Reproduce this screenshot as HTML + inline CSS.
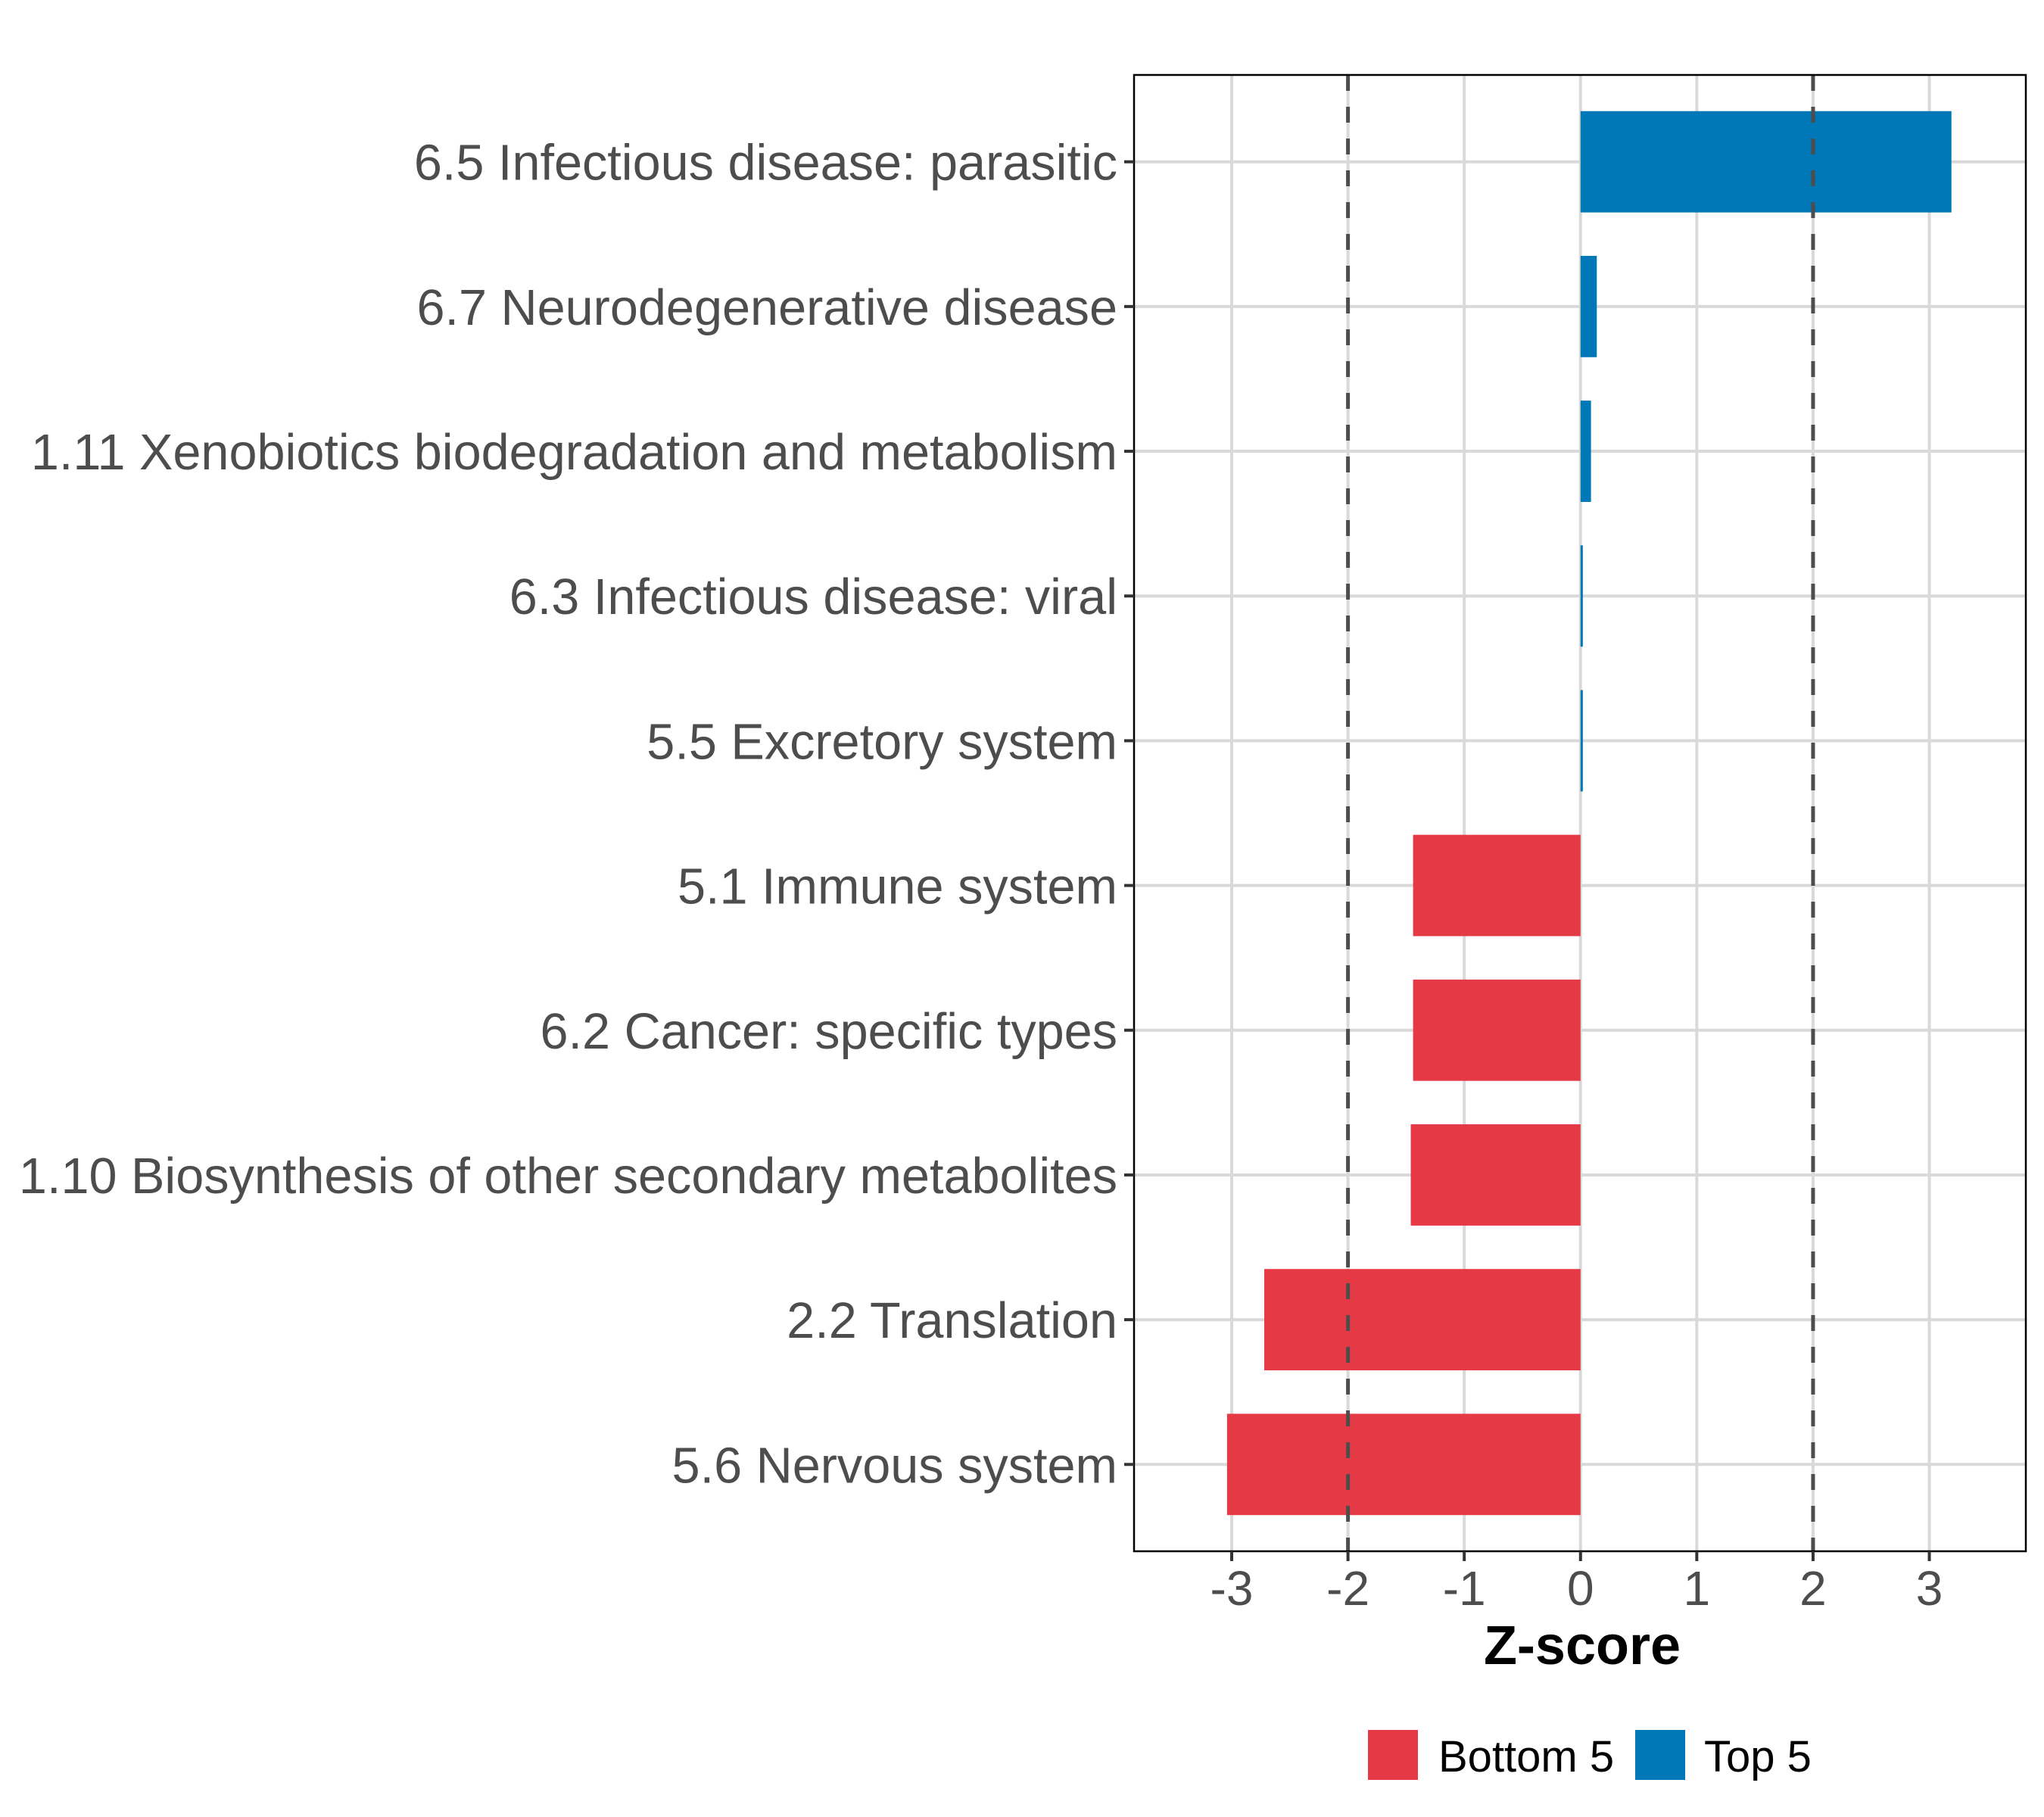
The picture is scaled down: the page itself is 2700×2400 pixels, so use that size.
<!DOCTYPE html>
<html><head><meta charset="utf-8"><style>
html,body{margin:0;padding:0;background:#fff;}
svg{display:block;font-family:"Liberation Sans",Arial,sans-serif;}
</style></head><body>
<svg id="chart" width="2700" height="2400" viewBox="0 0 2700 2400" xmlns="http://www.w3.org/2000/svg">
<rect x="0" y="0" width="2700" height="2400" fill="#fff"/>
<g id="grid"></g>
<g id="bars"></g>
<g id="refs"></g>
<rect x="1498" y="99" width="1178" height="1950" fill="none" stroke="#000" stroke-width="2.5"/>
<g id="yaxis"></g>
<g id="xaxis"></g>
<text x="2090" y="2198" text-anchor="middle" font-size="72" font-weight="bold" fill="#000">Z-score</text>
<g>
  <g>
    <rect x="1807" y="2285" width="66" height="66" fill="#E63946"/>
    <text x="1900" y="2340" font-size="58" fill="#000">Bottom 5</text>
  </g>
  <g>
    <rect x="2160" y="2285" width="66" height="66" fill="#0077B6"/>
    <text x="2251" y="2340" font-size="58" fill="#000">Top 5</text>
  </g>
</g>
</svg>
<script>
const categories = ["6.5 Infectious disease: parasitic","6.7 Neurodegenerative disease","1.11 Xenobiotics biodegradation and metabolism","6.3 Infectious disease: viral","5.5 Excretory system","5.1 Immune system","6.2 Cancer: specific types","1.10 Biosynthesis of other secondary metabolites","2.2 Translation","5.6 Nervous system"];
const zscores = [3.19, 0.14, 0.09, 0.02, 0.02, -1.44, -1.44, -1.46, -2.72, -3.04];
const groups = ["Top 5","Top 5","Top 5","Top 5","Top 5","Bottom 5","Bottom 5","Bottom 5","Bottom 5","Bottom 5"];
const xTicks = [-3,-2,-1,0,1,2,3];
const xTickLabels = ["-3","-2","-1","0","1","2","3"];
const refLines = [-2, 2];

const NS="http://www.w3.org/2000/svg";
const P={l:1498,r:2676,t:99,b:2049};
const xMin=-3.84, xMax=3.83;
const x=v=>P.l+(v-xMin)/(xMax-xMin)*(P.r-P.l);
const step=(P.b-P.t)/(categories.length-1+1.2);
const y=i=>P.t+0.6*step+i*step;
const colors={"Top 5":"#0077B6","Bottom 5":"#E63946"};
function mk(tag,parent,attrs){const e=document.createElementNS(NS,tag);for(const k in attrs)e.setAttribute(k,attrs[k]);parent.appendChild(e);return e;}
const grid=document.getElementById('grid'),bars=document.getElementById('bars'),refs=document.getElementById('refs'),ya=document.getElementById('yaxis'),xa=document.getElementById('xaxis');
xTicks.forEach((t,i)=>{
  const g=mk('line',grid,{x1:x(t),x2:x(t),y1:P.t,y2:P.b,stroke:'#d9d9d9','stroke-width':4});
  
  
  const tk=mk('line',xa,{x1:x(t),x2:x(t),y1:P.b,y2:P.b+13,stroke:'#333','stroke-width':4});
  
  
  const lb=mk('text',xa,{x:x(t),y:2120,'text-anchor':'middle','font-size':64,fill:'#4d4d4d'});
  lb.textContent=xTickLabels[i];
  
  
});
categories.forEach((c,i)=>{
  const g=mk('line',grid,{x1:P.l,x2:P.r,y1:y(i),y2:y(i),stroke:'#d9d9d9','stroke-width':4});
  
  
  const v=zscores[i], bw=0.7*step;
  const b=mk('rect',bars,{x:Math.min(x(0),x(v)),y:y(i)-bw/2,width:Math.abs(x(v)-x(0)),height:bw,fill:colors[groups[i]]});
  
  
  const tk=mk('line',ya,{x1:P.l-13,x2:P.l,y1:y(i),y2:y(i),stroke:'#333','stroke-width':4});
  
  
  const lb=mk('text',ya,{x:1476,y:y(i)+24,'text-anchor':'end','font-size':66.6,fill:'#4d4d4d'});
  lb.textContent=c;
  
  
});
refLines.forEach(r=>{
  const l=mk('line',refs,{x1:x(r),x2:x(r),y1:P.t,y2:P.b,stroke:'#4d4d4d','stroke-width':5,'stroke-dasharray':'21 21'});
  
  
});
</script>
</body></html>
